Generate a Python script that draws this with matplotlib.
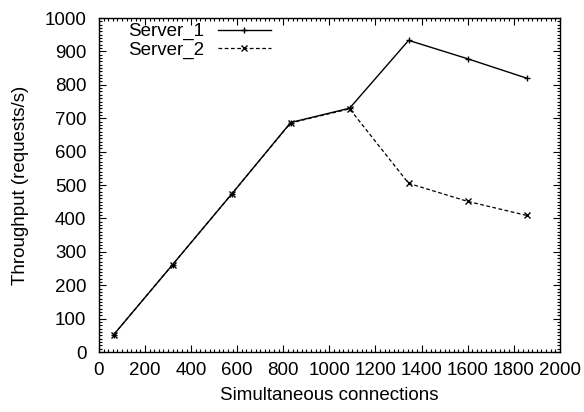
import matplotlib
matplotlib.use('Agg')
from matplotlib import pyplot as plt
from matplotlib.ticker import MultipleLocator

plt.rcParams.update({
    'font.family': ['Liberation Sans', 'DejaVu Sans'],
    'font.size': 13.5,
})

connections = [64, 320, 576, 832, 1088, 1344, 1600, 1856]
server_1 = [52, 262, 473, 687, 730, 933, 878, 820]
server_2 = [52, 262, 473, 686, 728, 505, 451, 409]

fig = plt.figure(figsize=(5.84, 4.12), dpi=100)
ax = fig.add_axes([0.1695, 0.1456, 0.789, 0.8107])

ax.plot(connections, server_1, '-', color='black', lw=1.0, marker='+', ms=5, mew=1.0, label='Server_1')
ax.plot(connections, server_2, '--', color='black', lw=0.9, marker='x', ms=4, mew=1.0,
        dashes=(3, 2), label='Server_2')

ax.set_xlim(0, 2000)
ax.set_ylim(0, 1000)
ax.xaxis.set_major_locator(MultipleLocator(200))
ax.xaxis.set_minor_locator(MultipleLocator(20))
ax.yaxis.set_major_locator(MultipleLocator(100))
ax.yaxis.set_minor_locator(MultipleLocator(10))
ax.tick_params(which='both', direction='in', top=True, right=True, width=0.8)
ax.tick_params(which='major', length=5)
ax.tick_params(axis='x', which='major', pad=7)
ax.tick_params(axis='y', which='major', pad=9)
ax.tick_params(which='minor', length=2.5)
for s in ax.spines.values():
    s.set_linewidth(1.0)

ax.set_xlabel('Simultaneous connections', labelpad=6)
ax.set_ylabel('Throughput (requests/s)', labelpad=11)

ax.legend(loc='upper left', bbox_to_anchor=(0.063, 0.985), frameon=False, markerfirst=False,
          handlelength=2.8, handletextpad=0.75, labelspacing=0.05,
          borderaxespad=0, borderpad=0)

fig.savefig('out.png', dpi=100)
